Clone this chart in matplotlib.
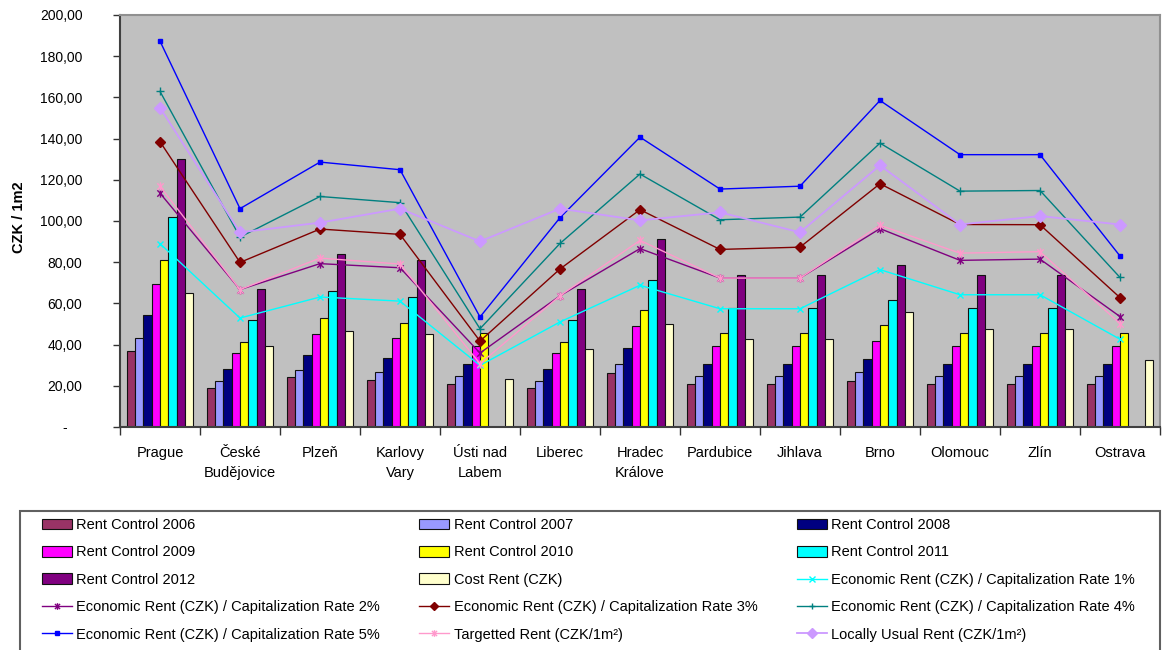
import numpy as np
import matplotlib
matplotlib.use("Agg")
import matplotlib.pyplot as plt
from matplotlib.path import Path
from matplotlib.patches import Rectangle
from matplotlib.transforms import ScaledTranslation

plt.rcParams['font.family'] = ['Liberation Sans', 'DejaVu Sans']

nan = np.nan

cities = ["Prague", "České\nBudějovice", "Plzeň", "Karlovy\nVary", "Ústi nad\nLabem",
          "Liberec", "Hradec\nKrálove", "Pardubice", "Jihlava", "Brno", "Olomouc",
          "Zlín", "Ostrava"]

# bars (CZK / m2)
rc2006 = [37.0, 19.0, 24.1, 22.8, 20.9, 19.0, 26.0, 20.9, 20.9, 22.3, 20.9, 20.9, 20.9]
rc2007 = [43.4, 22.2, 27.8, 26.7, 24.8, 22.2, 30.6, 24.8, 24.8, 26.7, 24.8, 24.8, 24.8]
rc2008 = [54.4, 28.0, 34.9, 33.7, 30.6, 28.0, 38.2, 30.6, 30.6, 33.0, 30.6, 30.6, 30.6]
rc2009 = [69.4, 35.7, 45.1, 43.2, 39.4, 35.7, 49.0, 39.4, 39.4, 41.9, 39.4, 39.4, 39.4]
rc2010 = [80.9, 41.4, 52.7, 50.3, 45.8, 41.4, 56.6, 45.8, 45.8, 49.7, 45.8, 45.8, 45.8]
rc2011 = [101.9, 52.1, 66.0, 63.1, nan, 52.1, 71.2, 57.9, 57.9, 61.6, 57.9, 57.9, nan]
rc2012 = [129.9, 66.8, 83.9, 80.9, nan, 66.8, 91.1, 73.6, 73.6, 78.8, 73.6, 73.6, nan]
cost_rent = [65.0, 39.3, 46.4, 45.1, 23.5, 38.0, 50.2, 42.6, 42.6, 55.8, 47.7, 47.7, 32.4]

# lines
cap1 = [89.0, 52.9, 63.1, 61.1, 29.9, 51.0, 68.8, 57.4, 57.4, 76.4, 64.2, 64.2, 42.6]
cap2 = [113.5, 66.7, 79.3, 77.3, 35.9, 63.7, 86.6, 72.3, 72.3, 96.3, 80.9, 81.5, 53.6]
cap3 = [138.5, 79.9, 96.1, 93.5, 41.7, 76.7, 105.5, 86.2, 87.3, 118.1, 98.3, 98.2, 62.8]
cap4 = [162.9, 92.2, 111.9, 108.9, 47.7, 89.1, 122.8, 100.6, 101.9, 137.8, 114.5, 114.8, 72.6]
cap5 = [187.3, 106.0, 128.6, 124.9, 53.4, 101.6, 140.7, 115.5, 116.9, 158.5, 132.2, 132.2, 83.0]
targeted = [116.8, 66.7, 82.0, 79.1, 30.7, 63.7, 90.6, 72.3, 72.3, 97.9, 84.4, 85.1, 50.2]
locally = [155.0, 94.5, 99.2, 106.0, 90.1, 106.0, 100.3, 104.2, 94.5, 127.0, 98.3, 102.4, 98.3]

bar_series = [
    ("Rent Control 2006", rc2006, "#993366"),
    ("Rent Control 2007", rc2007, "#9999FF"),
    ("Rent Control 2008", rc2008, "#000080"),
    ("Rent Control 2009", rc2009, "#FF00FF"),
    ("Rent Control 2010", rc2010, "#FFFF00"),
    ("Rent Control 2011", rc2011, "#00FFFF"),
    ("Rent Control 2012", rc2012, "#800080"),
    ("Cost Rent (CZK)", cost_rent, "#FFFFCC"),
]

# excel style asterisk marker (x with a vertical bar)
star = Path([(-1, -1), (1, 1), (-1, 1), (1, -1), (0, -1.3), (0, 1.3)],
            [Path.MOVETO, Path.LINETO, Path.MOVETO, Path.LINETO, Path.MOVETO, Path.LINETO])

line_series = [
    ("Economic Rent (CZK) / Capitalization Rate 1%", cap1, "#00FFFF", "x", 5),
    ("Economic Rent (CZK) / Capitalization Rate 2%", cap2, "#800080", star, 6),
    ("Economic Rent (CZK) / Capitalization Rate 3%", cap3, "#800000", "D", 5),
    ("Economic Rent (CZK) / Capitalization Rate 4%", cap4, "#008080", "+", 6),
    ("Economic Rent (CZK) / Capitalization Rate 5%", cap5, "#0000FF", "s", 3),
    ("Targetted Rent (CZK/1m²)", targeted, "#FF99CC", star, 6),
    ("Locally Usual Rent (CZK/1m²)", locally, "#CC99FF", "D", 6),
]

fig = plt.figure(figsize=(11.62, 6.5), dpi=100)
ax = fig.add_axes([120 / 1162, 1 - 427 / 650, 1040 / 1162, 412 / 650])
ax.set_facecolor("#C0C0C0")

x = np.arange(len(cities))
w = 0.104
handles = {}
for i, (name, vals, col) in enumerate(bar_series):
    h = ax.bar(x + (i - 3.5) * w, vals, w, color=col, edgecolor="#111111",
               linewidth=0.8, label=name, zorder=2)
    handles[name] = h

for name, vals, col, mk, ms in line_series:
    lw = 1.3 if name.startswith("Locally") else 1.0
    h, = ax.plot(x, vals, color=col, lw=lw, marker=mk, ms=ms, mfc=col, mec=col,
                 mew=1.0, label=name, zorder=3)
    handles[name] = h

ax.set_xlim(-0.5, len(cities) - 0.5)
ax.set_ylim(0, 200)

yt = np.arange(0, 201, 20)
ax.set_yticks(yt)
ax.set_yticklabels(["-"] + [f"{v:.2f}".replace(".", ",") for v in yt[1:]], fontsize=10)
ax.tick_params(axis="y", direction="out", length=5, width=1, color="#333333", pad=22)
zero_lbl = ax.get_yticklabels()[0]
zero_lbl.set_transform(zero_lbl.get_transform() + ScaledTranslation(-11 / 72, 0, fig.dpi_scale_trans))

ax.set_xticks(x)
ax.set_xticklabels(cities, fontsize=10.5, linespacing=1.6, va="top")
ax.set_xticks(np.arange(-0.5, len(cities)), minor=True)
ax.tick_params(axis="x", which="major", length=0, pad=13.5)
ax.tick_params(axis="x", which="minor", direction="out", length=6, width=1, color="#333333")

ax.set_ylabel("CZK / 1m2", fontsize=10.5, fontweight="bold")
ax.yaxis.set_label_coords(-0.090, 0.51)

for s in ["left", "bottom"]:
    ax.spines[s].set_color("#404040")
    ax.spines[s].set_linewidth(1.5)
for s in ["top", "right"]:
    ax.spines[s].set_color("#909090")
    ax.spines[s].set_linewidth(1.5)

# legend box
fig.patches.append(Rectangle((20 / 1162, -0.02), 1140 / 1162, (650 - 511) / 650 + 0.02,
                             transform=fig.transFigure, facecolor="white",
                             edgecolor="#606060", linewidth=1.5, zorder=0))

order = ["Rent Control 2006", "Rent Control 2009", "Rent Control 2012",
         "Economic Rent (CZK) / Capitalization Rate 2%",
         "Economic Rent (CZK) / Capitalization Rate 5%",
         "Rent Control 2007", "Rent Control 2010", "Cost Rent (CZK)",
         "Economic Rent (CZK) / Capitalization Rate 3%", "Targetted Rent (CZK/1m²)",
         "Rent Control 2008", "Rent Control 2011",
         "Economic Rent (CZK) / Capitalization Rate 1%",
         "Economic Rent (CZK) / Capitalization Rate 4%", "Locally Usual Rent (CZK/1m²)"]
fig.legend([handles[k] for k in order], order, loc="upper left",
           bbox_to_anchor=(42 / 1162, 1 - 518 / 650), ncol=3, frameon=False,
           fontsize=10.5, handlelength=2.05, handleheight=0.75, handletextpad=0.3,
           columnspacing=2.7, labelspacing=0.92, borderpad=0, borderaxespad=0,
           numpoints=1, markerscale=0.8)

fig.savefig("out.png", dpi=100)
